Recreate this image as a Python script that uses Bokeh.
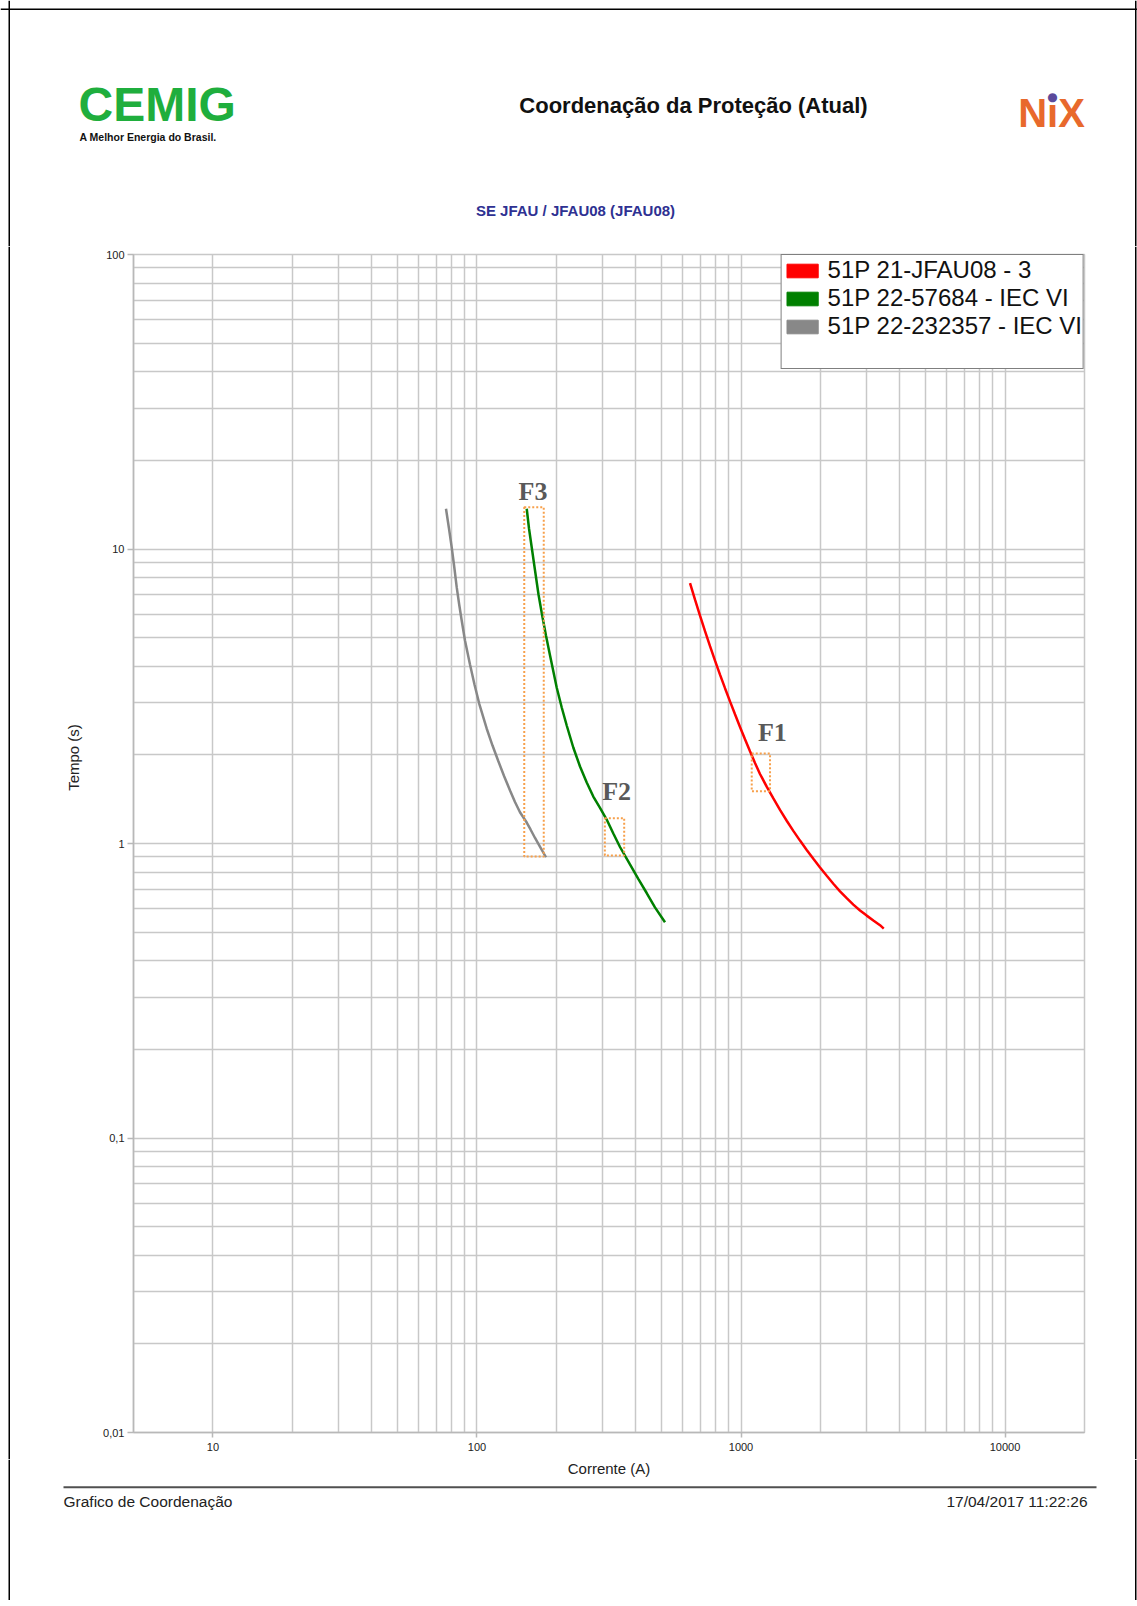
import math
from bokeh.plotting import figure
from bokeh.layouts import column, row
from bokeh.models import (Range1d, FixedTicker, CustomJSTickFormatter, Span,
                          BoxAnnotation, Legend, LegendItem)
from bokeh.embed import file_html
from bokeh.resources import INLINE
from bokeh.core.properties import value

# ---------------- data ----------------
red_current = [641.0, 669.6, 699.4, 730.6, 763.2, 797.2, 832.6, 869.8, 908.5, 949.0, 991.3, 1035.5,
               1081.6, 1129.8, 1180.1, 1251.1, 1325.9, 1405.1, 1489.7, 1578.2, 1672.8, 1773.6,
               1879.1, 1992.1, 2112.1, 2237.3, 2371.4, 2514.1, 2663.4, 2823.7, 2993.5, 3171.1,
               3362.1, 3472.3]
red_time = [7.654, 6.727, 5.935, 5.259, 4.677, 4.176, 3.743, 3.368, 3.038, 2.746, 2.488, 2.261,
            2.058, 1.878, 1.722, 1.561, 1.422, 1.300, 1.195, 1.104, 1.023, 0.951, 0.887, 0.829,
            0.777, 0.730, 0.688, 0.652, 0.620, 0.592, 0.569, 0.548, 0.528, 0.514]

green_current = [154.3, 157.4, 161.2, 165.9, 171.0, 176.3, 182.5, 189.1, 200.4, 209.4, 218.7, 231.6,
                 245.6, 260.4, 275.8, 292.4, 309.9, 328.4, 348.1, 379.7, 408.2, 439.3, 472.2, 515.4]
green_time = [13.70, 11.74, 10.12, 8.453, 7.006, 5.991, 5.085, 4.349, 3.386, 2.896, 2.516, 2.118,
              1.826, 1.611, 1.444, 1.320, 1.206, 1.081, 0.973, 0.849, 0.758, 0.679, 0.607, 0.540]

grey_current = [76.31, 78.33, 80.20, 81.97, 83.78, 85.62, 87.51, 90.06, 94.08, 97.84, 102.0, 108.8,
                114.5, 120.4, 126.6, 133.4, 139.3, 145.5, 154.3, 159.5, 165.9, 174.0, 182.5]
grey_time = [13.70, 11.74, 10.14, 8.722, 7.419, 6.480, 5.718, 4.891, 4.053, 3.467, 2.981, 2.458,
             2.151, 1.906, 1.695, 1.514, 1.383, 1.277, 1.178, 1.116, 1.044, 0.969, 0.898]

series_labels = ["51P 21-JFAU08 - 3", "51P 22-57684 - IEC VI", "51P 22-232357 - IEC VI"]

fault_names = ["F1", "F2", "F3"]
fault_i_low = [1098, 305, 151]
fault_i_high = [1288, 361, 179]
fault_t_low = [1.505, 0.910, 0.903]
fault_t_high = [2.02, 1.219, 13.87]
fault_label_i = [1314, 338, 163]
fault_label_t = [2.39, 1.505, 15.7]

x_major = [10, 100, 1000, 10000]
y_major = [0.01, 0.1, 1, 10, 100]
x_minor = [m * 10 ** k for k in (1, 2, 3) for m in range(2, 10)]
y_minor = [m * 10.0 ** k for k in (-2, -1, 0, 1) for m in range(2, 10)]

title_text = "Coordenação da Proteção (Atual)"
subtitle_text = "SE JFAU / JFAU08 (JFAU08)"
x_label = "Corrente (A)"
y_label = "Tempo (s)"
footer_left = "Grafico de Coordenação"
footer_right = "17/04/2017 11:22:26"

# ---------------- page geometry ----------------
PW, PH = 1137, 1600
HEAD_H = 246
CH_L, CH_T, CH_R, CH_B = 35, 8, 5, 27
FW, FH = 951, 1178
LEFT_W = 133 - CH_L
CHART_W = CH_L + FW + CH_R
RIGHT_W = PW - LEFT_W - CHART_W
MID_H = CH_T + FH + CH_B
FOOT_H = PH - HEAD_H - MID_H
BORDER_L, BORDER_R, BORDER_T = 8.75, 1135.25, 8.75
SANS = "Liberation Sans"


def page_fig(w, h, x0, y0):
    f = figure(width=w, height=h, x_range=Range1d(x0, x0 + w), y_range=Range1d(y0 + h, y0),
               x_axis_type=None, y_axis_type=None, output_backend="svg",
               toolbar_location=None, min_border=0)
    f.outline_line_color = None
    f.background_fill_color = "white"
    f.border_fill_color = "white"
    return f


def vborder(f, x):
    f.add_layout(Span(location=x, dimension="height", line_color="black", line_width=1.5))


def txt(f, x, y, s, size, **kw):
    opts = dict(text_font=value(SANS), text_font_size=size, text_color="#111111",
                text_align="center", text_baseline="middle")
    opts.update(kw)
    f.text(x=[x], y=[y], text=[s], **opts)


# ---------------- header ----------------
head = page_fig(PW, HEAD_H, 0, 0)
vborder(head, BORDER_L)
vborder(head, BORDER_R)
head.add_layout(Span(location=BORDER_T, dimension="width", line_color="black", line_width=1.5))
txt(head, 78, 104, "CEMIG", "48px", text_align="left", text_font_style="bold", text_color="#1fae3d")
txt(head, 79, 136, "A Melhor Energia do Brasil.", "10.5px", text_align="left", text_font_style="bold")
txt(head, 693, 105, title_text, "22px", text_font_style="bold")
txt(head, 1051, 112, "NıX", "40px", text_font_style="bold", text_color="#e8692c")
txt(head, 1052, 96, "●", "12px", text_color="#5b4a9b", text_font=value("DejaVu Sans"))
txt(head, 575, 210, subtitle_text, "15px", text_font_style="bold", text_color="#2e3192")

# ---------------- left & right margins ----------------
left = page_fig(LEFT_W, MID_H, 0, HEAD_H)
vborder(left, BORDER_L)
txt(left, 73, 757, y_label, "15px", angle=math.pi / 2, text_color="#222222")

right = page_fig(RIGHT_W, MID_H, LEFT_W + CHART_W, HEAD_H)
vborder(right, BORDER_R)

# ---------------- chart ----------------
p = figure(width=CHART_W, height=MID_H, x_axis_type="log", y_axis_type="log",
           x_range=Range1d(5, 20000), y_range=Range1d(0.01, 100),
           output_backend="svg", toolbar_location=None,
           min_border_left=CH_L, min_border_top=CH_T,
           min_border_right=CH_R, min_border_bottom=CH_B)
p.background_fill_color = "white"
p.border_fill_color = "white"
p.outline_line_color = "#c8c8c8"
p.outline_line_width = 1.5

GRID = "#c8c8c8"
xt = FixedTicker(ticks=x_major, minor_ticks=x_minor)
yt = FixedTicker(ticks=y_major, minor_ticks=y_minor)
fmt_code = "return String(tick).replace('.', ',');"

xa = p.xaxis[0]
ya = p.yaxis[0]
xa.ticker = xt
ya.ticker = yt
for ax in (xa, ya):
    ax.formatter = CustomJSTickFormatter(code=fmt_code)
    ax.axis_line_color = "#b8b8b8"
    ax.axis_line_width = 1.5
    ax.major_tick_line_color = "#b8b8b8"
    ax.major_tick_line_width = 1.5
    ax.major_tick_in = 0
    ax.minor_tick_line_color = None
    ax.major_label_text_font = SANS
    ax.major_label_text_font_size = "11px"
    ax.major_label_text_color = "#222222"
xa.major_tick_out = 5
xa.major_label_standoff = 5
ya.major_tick_out = 6
ya.major_label_standoff = 3

p.xgrid.ticker = xt
p.ygrid.ticker = yt
for g in (p.xgrid[0], p.ygrid[0]):
    g.grid_line_color = GRID
    g.grid_line_width = 1.5
    g.minor_grid_line_color = GRID
    g.minor_grid_line_width = 1.5

colors = ["#ff0000", "#008000", "#888888"]
p.line(red_current, red_time, line_color=colors[0], line_width=2.5)
p.line(green_current, green_time, line_color=colors[1], line_width=2.5)
p.line(grey_current, grey_time, line_color=colors[2], line_width=2.5)

p.quad(left=fault_i_low, right=fault_i_high, bottom=fault_t_low, top=fault_t_high,
       fill_color=None, line_color="#f7a04b", line_width=2, line_dash="2 2")
p.text(x=fault_label_i, y=fault_label_t, text=fault_names,
       text_font=value("Liberation Serif"), text_font_style="bold",
       text_font_size="26px", text_color="#595959",
       text_align="center", text_baseline="alphabetic")

nan = float("nan")
leg_renderers = [p.quad(left=[nan], right=[nan], top=[nan], bottom=[nan],
                        fill_color=c, line_color=c) for c in colors]
blank = p.quad(left=[nan], right=[nan], top=[nan], bottom=[nan], fill_alpha=0, line_alpha=0)
items = [LegendItem(label=lab, renderers=[r]) for lab, r in zip(series_labels, leg_renderers)]
items.append(LegendItem(label=" ", renderers=[blank]))
legend = Legend(items=items, location="top_right", margin=0, padding=1, spacing=0,
                glyph_width=39, glyph_height=17, label_standoff=6, label_height=27,
                label_text_font=SANS, label_text_font_size="24px",
                label_text_color="#111111", border_line_color="black",
                border_line_width=1, background_fill_color="white", background_fill_alpha=1)
p.add_layout(legend)

# ---------------- footer ----------------
foot = page_fig(PW, FOOT_H, 0, HEAD_H + MID_H)
vborder(foot, BORDER_L)
vborder(foot, BORDER_R)
txt(foot, 133 + FW / 2, 1468, x_label, "15px", text_color="#222222")
foot.add_layout(BoxAnnotation(left=63, right=1096, top=1485.7, bottom=1487.7,
                              fill_color="#505050", fill_alpha=1, line_color=None))
txt(foot, 63, 1501, footer_left, "15.5px", text_align="left", text_color="#222222")
txt(foot, 1087, 1501, footer_right, "15.5px", text_align="right", text_color="#222222")

middle = row(column(left, spacing=0), column(p, spacing=0), column(right, spacing=0), spacing=0)
layout = column(head, middle, foot, spacing=0)
open("out.html", "w").write(file_html(layout, INLINE))
